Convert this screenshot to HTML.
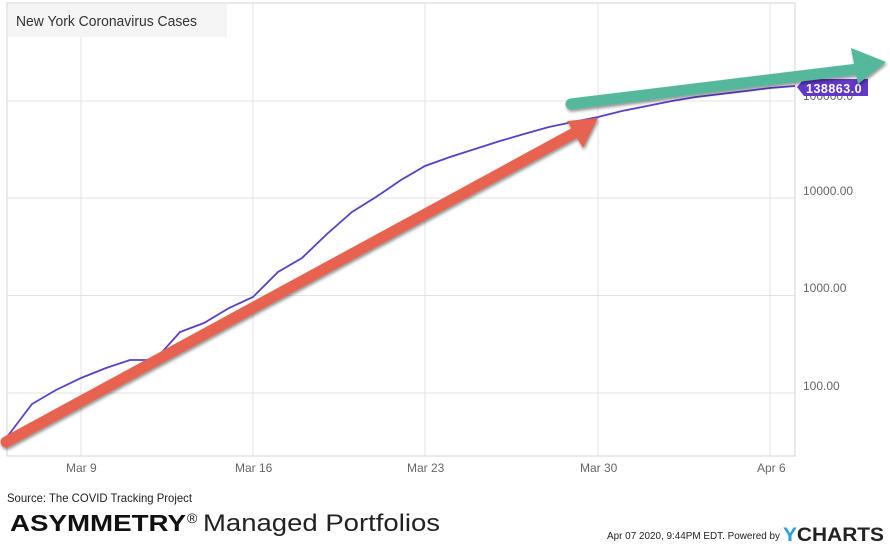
<!DOCTYPE html>
<html><head><meta charset="utf-8"><style>
body{margin:0;background:#fff;width:890px;height:544px;overflow:hidden;font-family:"Liberation Sans",sans-serif}
</style></head><body>
<svg width="890" height="544" xmlns="http://www.w3.org/2000/svg" style="position:absolute;left:0;top:0">
<defs>
<filter id="sh" x="-10%" y="-50%" width="120%" height="200%"><feDropShadow dx="1" dy="2" stdDeviation="1.5" flood-color="#000" flood-opacity="0.45"/></filter>
</defs>
<g stroke="#e3e3e3" stroke-width="1" fill="none">
<line x1="7" y1="101" x2="795" y2="101"/>
<line x1="7" y1="198" x2="795" y2="198"/>
<line x1="7" y1="295.5" x2="795" y2="295.5"/>
<line x1="7" y1="393" x2="795" y2="393"/>
<line x1="81" y1="3" x2="81" y2="456"/>
<line x1="253" y1="3" x2="253" y2="456"/>
<line x1="425" y1="3" x2="425" y2="456"/>
<line x1="598" y1="3" x2="598" y2="456"/>
<line x1="770" y1="3" x2="770" y2="456"/>
</g>
<rect x="7" y="3" width="788" height="453" fill="none" stroke="#d6d6d6"/>
<rect x="8" y="4" width="219" height="33" fill="#f5f5f5"/>
<text x="16" y="26" font-size="14.5" fill="#333" textLength="181" lengthAdjust="spacingAndGlyphs">New York Coronavirus Cases</text>
<polyline fill="none" stroke="#5b3fc8" stroke-width="1.8" points="7,437 32,404 56,390 81,378 106,368 130,360 155,360 180,332 204,323 229,308 253,297 278,272 302,258 327,234 352,212 376,197 401,180 425,166 450,157 475,149 500,141 524,134 549,127 573,122 598,117 622,111 647,106 672,101 696,97 721,94 746,91 770,88 795,86"/>
<g fill="#666" font-size="12">
<text x="66" y="472">Mar 9</text>
<text x="235" y="472">Mar 16</text>
<text x="407" y="472">Mar 23</text>
<text x="580" y="472">Mar 30</text>
<text x="757" y="472">Apr 6</text>
<text x="803" y="195">10000.00</text>
<text x="803" y="292">1000.00</text>
<text x="803" y="390">100.00</text>
<text x="803" y="100">100000.0</text>
</g>
<path d="M797,87 L804,79 L868,79 L868,96 L804,96 Z" fill="#6138c8"/>
<text x="806" y="93" font-size="12.5" font-weight="bold" fill="#fff" letter-spacing="0.5">138863.0</text>
<g filter="url(#sh)">
<line x1="6" y1="442" x2="578" y2="131" stroke="#e8634f" stroke-width="11" stroke-linecap="round"/>
<polygon points="598,118 567,121 583,148" fill="#e8634f"/>
</g>
<g filter="url(#sh)">
<line x1="571" y1="104" x2="858" y2="69" stroke="#55b89c" stroke-width="11" stroke-linecap="round"/>
<polygon points="886,62 851,48 858,84" fill="#55b89c"/>
</g>
<text x="7" y="502" font-size="12" fill="#222" textLength="185" lengthAdjust="spacingAndGlyphs">Source: The COVID Tracking Project</text>
<text x="10" y="531" font-size="23" font-weight="bold" fill="#111" textLength="176" lengthAdjust="spacingAndGlyphs">ASYMMETRY</text>
<text x="187" y="523" font-size="14" fill="#111">®</text>
<text x="203" y="531" font-size="24" fill="#222" textLength="237" lengthAdjust="spacingAndGlyphs">Managed Portfolios</text>
<text x="607" y="539" font-size="10.5" fill="#222" textLength="173" lengthAdjust="spacingAndGlyphs">Apr 07 2020, 9:44PM EDT.  Powered by</text>
<text x="783" y="541" font-size="19" font-weight="bold" fill="#222" textLength="101" lengthAdjust="spacingAndGlyphs"><tspan fill="#2a9fd8">Y</tspan>CHARTS</text>
</svg>
</body></html>
